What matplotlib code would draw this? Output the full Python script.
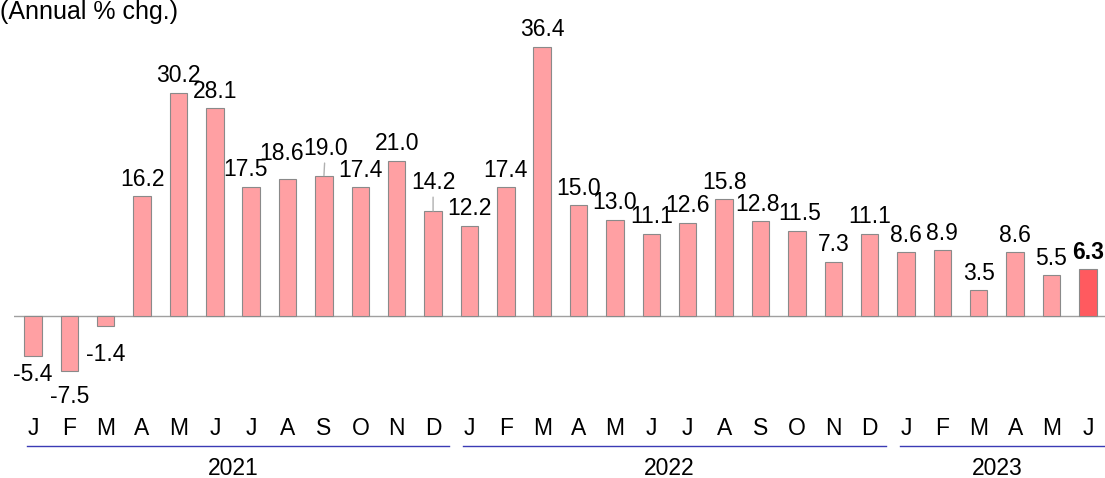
import matplotlib
matplotlib.use("Agg")
import matplotlib.pyplot as plt

plt.rcParams['font.family'] = ['Liberation Sans', 'DejaVu Sans']

months = ['J', 'F', 'M', 'A', 'M', 'J', 'J', 'A', 'S', 'O', 'N', 'D'] * 2 + ['J', 'F', 'M', 'A', 'M', 'J']
values = [-5.4, -7.5, -1.4, 16.2, 30.2, 28.1, 17.5, 18.6, 19.0, 17.4, 21.0, 14.2,
          12.2, 17.4, 36.4, 15.0, 13.0, 11.1, 12.6, 15.8, 12.8, 11.5, 7.3, 11.1,
          8.6, 8.9, 3.5, 8.6, 5.5, 6.3]
years = ['2021', '2022', '2023']
year_spans = [(0, 11), (12, 23), (24, 29)]

# extra label shift in points (labels moved to avoid overlap)
extra = {1: 5, 2: 7, 7: 6, 8: 7, 11: 8}
shift_x = {6: -4, 7: -4, 8: 1, 20: -2, 21: 2}
leader = {8, 11}

fig = plt.figure(figsize=(11.05, 4.78), dpi=100)
ax = fig.add_axes([14 / 1105, 78 / 478, 1 - 14 / 1105, 380 / 478])

x = list(range(len(values)))
colors = ['#ffa0a3'] * (len(values) - 1) + ['#ff5a5f']
ax.bar(x, values, width=0.48, color=colors, edgecolor='#8a8a8a', linewidth=0.8, zorder=2)
ax.axhline(0, color='#a0a0a0', linewidth=1, zorder=1)

fs = 16.5
for i, v in enumerate(values):
    bold = i == len(values) - 1
    dx = shift_x.get(i, 0)
    if v >= 0:
        off = 4 + extra.get(i, 0)
        ax.annotate(f'{v:.1f}', (i, v), xytext=(dx, off), textcoords='offset points',
                    ha='center', va='bottom', fontsize=fs,
                    fontweight='bold' if bold else 'normal',
                    arrowprops=dict(arrowstyle='-', color='#b0b0b0', lw=1, shrinkA=0, shrinkB=0) if i in leader else None)
    else:
        off = -5 - extra.get(i, 0)
        ax.annotate(f'{v:.1f}', (i, v), xytext=(dx, off), textcoords='offset points',
                    ha='center', va='top', fontsize=fs)

ax.set_xlim(-0.52, 29.47)
ax.set_ylim(-11.37, 40.05)
ax.axis('off')

# month labels, year underline and year labels
for i, m in enumerate(months):
    ax.text(i, -15.2, m, ha='center', va='center', fontsize=fs, clip_on=False)
for (a, b), yr in zip(year_spans, years):
    ax.plot([a - 0.17, b + 0.45], [-17.6, -17.6], color='#3b3bb5', lw=1, clip_on=False)
    ax.text((a + b) / 2, -20.6, yr, ha='center', va='center', fontsize=fs, clip_on=False)

fig.text(0.0, 1 - 19 / 478, '(Annual % chg.)', ha='left', va='baseline', fontsize=18)

fig.savefig('out.png', dpi=100)
